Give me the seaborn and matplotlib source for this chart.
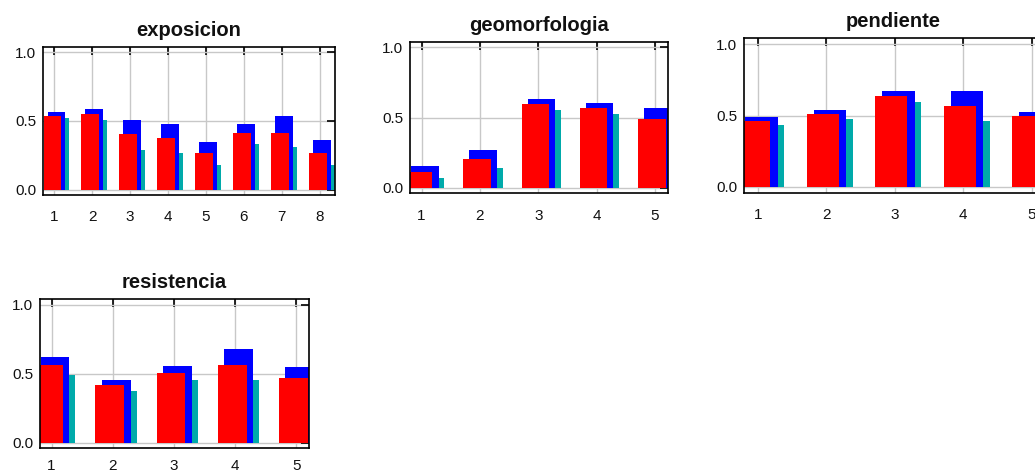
import numpy as np
import pandas as pd
import matplotlib
matplotlib.use("Agg")
import matplotlib.pyplot as plt
import seaborn as sns

# Category response per variable: mean, mean + sd, mean - sd
exposicion_cats = [1, 2, 3, 4, 5, 6, 7, 8]
exposicion_mean = [0.537, 0.549, 0.402, 0.378, 0.268, 0.415, 0.415, 0.268]
exposicion_plus_sd = [0.561, 0.590, 0.510, 0.480, 0.346, 0.480, 0.534, 0.359]
exposicion_minus_sd = [0.524, 0.510, 0.285, 0.268, 0.178, 0.334, 0.310, 0.178]

geomorfologia_cats = [1, 2, 3, 4, 5]
geomorfologia_mean = [0.112, 0.205, 0.594, 0.566, 0.487]
geomorfologia_plus_sd = [0.153, 0.272, 0.632, 0.606, 0.566]
geomorfologia_minus_sd = [0.072, 0.138, 0.554, 0.527, 0.408]

pendiente_cats = [1, 2, 3, 4, 5]
pendiente_mean = [0.460, 0.514, 0.633, 0.567, 0.500]
pendiente_plus_sd = [0.488, 0.540, 0.672, 0.672, 0.523]
pendiente_minus_sd = [0.435, 0.474, 0.593, 0.460, 0.477]

resistencia_cats = [1, 2, 3, 4, 5]
resistencia_mean = [0.562, 0.416, 0.506, 0.562, 0.470]
resistencia_plus_sd = [0.625, 0.453, 0.559, 0.678, 0.547]
resistencia_minus_sd = [0.494, 0.375, 0.455, 0.455, 0.393]

y_ticks = [0.0, 0.5, 1.0]

sns.set_theme(style="white")
plt.rcParams["font.family"] = ["Liberation Sans", "DejaVu Sans"]

panels = [
    ("exposicion", exposicion_cats, exposicion_mean, exposicion_plus_sd, exposicion_minus_sd,
     [0.0415, 0.5877, 0.2821, 0.3135], (0.70, 8.40), 11),
    ("geomorfologia", geomorfologia_cats, geomorfologia_mean, geomorfologia_plus_sd, geomorfologia_minus_sd,
     [0.3961, 0.5913, 0.2490, 0.3205], (0.80, 5.22), 11),
    ("pendiente", pendiente_cats, pendiente_mean, pendiente_plus_sd, pendiente_minus_sd,
     [0.7191, 0.5926, 0.2886, 0.3264], (0.804, 5.165), 11),
    ("resistencia", resistencia_cats, resistencia_mean, resistencia_plus_sd, resistencia_minus_sd,
     [0.0386, 0.0522, 0.2602, 0.3150], (0.81, 5.21), 8),
]

# drawn back to front: lower band, upper band, mean
layers = [("minus", "#00AAAA", 0.155), ("plus", "#0000FF", 0.055), ("mean", "#FF0000", -0.05)]
bar_width = 0.47

fig = plt.figure(figsize=(10.35, 4.73), dpi=100)

for name, cats, mean, plus, minus, rect, xlim, xpad in panels:
    ax = fig.add_axes(rect)
    df = pd.DataFrame({"cat": cats, "mean": mean, "plus": plus, "minus": minus})
    for col, color, offset in layers:
        sns.barplot(x=df["cat"] + offset, y=df[col], native_scale=True, width=bar_width,
                    color=color, saturation=1, linewidth=0, errorbar=None, ax=ax)
    ax.set_xlim(*xlim)
    ax.set_ylim(-0.04, 1.04)
    ax.set_xticks(cats)
    ax.set_xticklabels([str(c) for c in cats])
    ax.set_yticks(y_ticks)
    ax.set_yticklabels([f"{v:.1f}" for v in y_ticks])
    ax.set_xlabel("")
    ax.set_ylabel("")
    ax.set_axisbelow(True)
    ax.grid(True, color="#C8C8C8", linewidth=1.0)
    for sp in ax.spines.values():
        sp.set_visible(True)
        sp.set_color("black")
        sp.set_linewidth(1.2)
    ax.tick_params(axis="both", which="major", direction="in", length=5.5, width=1.2,
                   color="black", top=True, right=True, labelsize=11, labelcolor="#111111")
    ax.tick_params(axis="x", pad=xpad)
    ax.tick_params(axis="y", pad=5)
    ax.set_title(name, fontsize=14.5, fontweight="bold", pad=8, color="#111111")

fig.savefig("out.png", dpi=100, facecolor="white")
